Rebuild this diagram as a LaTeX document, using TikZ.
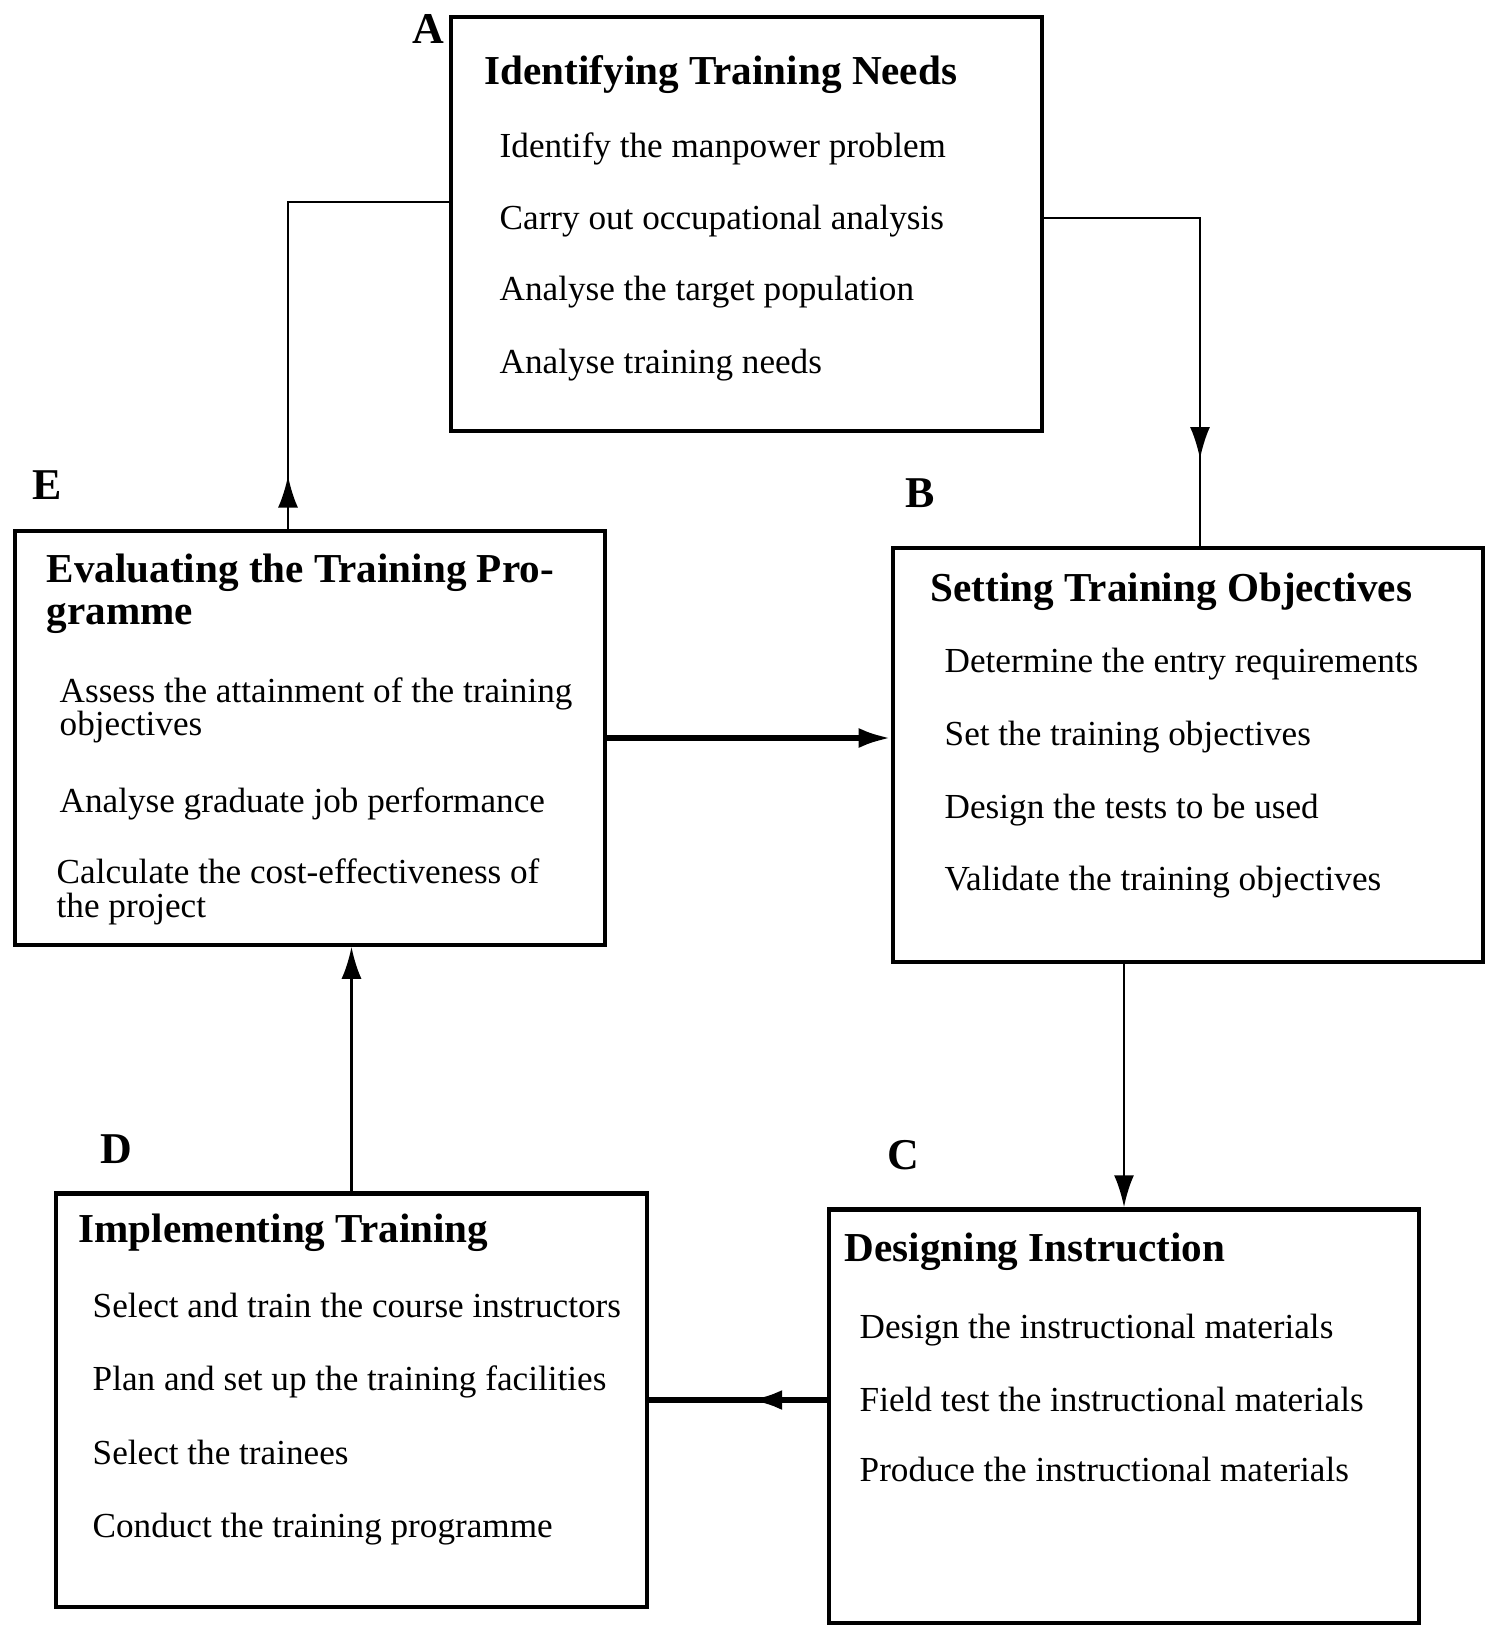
\documentclass[tikz,border=0pt]{standalone}
\usepackage{fontspec}
\setmainfont{Liberation Serif}
\usetikzlibrary{arrows.meta,decorations.markings}

\tikzset{
  stagebox/.style={draw, line width=1.2pt, minimum width=5.9cm, minimum height=4.13cm, inner sep=0pt},
  stagetitle/.style={anchor=base west, inner sep=0pt, font=\fontsize{11.7}{13}\selectfont\bfseries},
  stageitem/.style={anchor=base west, inner sep=0pt, font=\fontsize{10}{12}\selectfont},
  tag/.style={inner sep=0pt, font=\fontsize{12.5}{14}\selectfont\bfseries},
  conn/.style={line width=0.8pt},
  heavy/.style={line width=1.5pt},
  endarr/.style={-{Latex[length=0.32cm,width=0.2cm]}},
  midarr/.style={postaction={decorate}, decoration={markings, mark=at position #1 with {\arrow{Latex[length=0.32cm,width=0.2cm]}}}},
}

\begin{document}
\begin{tikzpicture}[x=0.01cm, y=-0.01cm]
            \useasboundingbox (0,0) rectangle (1487,1627);

            % the five stages
            \node (A) at (746.5,224) [stagebox] {};
            \node (E) at (310,738) [stagebox] {};
            \node (B) at (1188,755) [stagebox] {};
            \node (D) at (351.5,1400) [stagebox] {};
            \node (C) at (1124,1416) [stagebox] {};

            \node (tagA) at (428,29) [tag] {A};
            \node (tagE) at (47,485) [tag] {E};
            \node (tagB) at (920,493) [tag] {B};
            \node (tagD) at (116,1149) [tag] {D};
            \node (tagC) at (903,1155) [tag] {C};

            % A
            \node (A0) at (484,84) [stagetitle] {Identifying Training Needs};
            \node (A1) at (499,157) [stageitem] {Identify the manpower problem};
            \node (A2) at (499,229) [stageitem] {Carry out occupational analysis};
            \node (A3) at (499,300) [stageitem] {Analyse the target population};
            \node (A4) at (499,373) [stageitem] {Analyse training needs};

            % E
            \node (E0) at (46,582) [stagetitle] {Evaluating the Training Pro-};
            \node (E0b) at (46,624) [stagetitle] {gramme};
            \node (E1) at (59,702) [stageitem] {Assess the attainment of the training};
            \node (E1b) at (59,735) [stageitem] {objectives};
            \node (E2) at (59,812) [stageitem] {Analyse graduate job performance};
            \node (E3) at (56,883) [stageitem] {Calculate the cost-effectiveness of};
            \node (E3b) at (56,917) [stageitem] {the project};

            % B
            \node (B0) at (930,601) [stagetitle] {Setting Training Objectives};
            \node (B1) at (944,672) [stageitem] {Determine the entry requirements};
            \node (B2) at (944,745) [stageitem] {Set the training objectives};
            \node (B3) at (944,818) [stageitem] {Design the tests to be used};
            \node (B4) at (944,890) [stageitem] {Validate the training objectives};

            % D
            \node (D0) at (78,1242) [stagetitle] {Implementing Training};
            \node (D1) at (92,1317) [stageitem] {Select and train the course instructors};
            \node (D2) at (92,1390) [stageitem] {Plan and set up the training facilities};
            \node (D3) at (92,1464) [stageitem] {Select the trainees};
            \node (D4) at (92,1537) [stageitem] {Conduct the training programme};

            % C
            \node (C0) at (844,1261) [stagetitle] {Designing Instruction};
            \node (C1) at (859,1338) [stageitem] {Design the instructional materials};
            \node (C2) at (859,1411) [stageitem] {Field test the instructional materials};
            \node (C3) at (859,1481) [stageitem] {Produce the instructional materials};

            % the cycle
            \coordinate (EAturn) at (288,202);
            \coordinate (ABturn) at (1200,218);
            \draw[conn, midarr=0.11] (EAturn |- E.north) -- (EAturn) -- (EAturn -| A.west);
            \draw[conn, midarr=0.82] (ABturn -| A.east) -- (ABturn) -- (ABturn |- B.north);
            \draw[heavy, endarr] (E.east) -- (E.east -| B.west);
            \draw[conn, endarr] (C.north |- B.south) -- (C.north);
            \draw[heavy, midarr=0.43] (C.west |- D.east) -- (D.east);
            \draw[conn, endarr] (D.north) -- (D.north |- E.south);

        \end{tikzpicture}
\end{document}
